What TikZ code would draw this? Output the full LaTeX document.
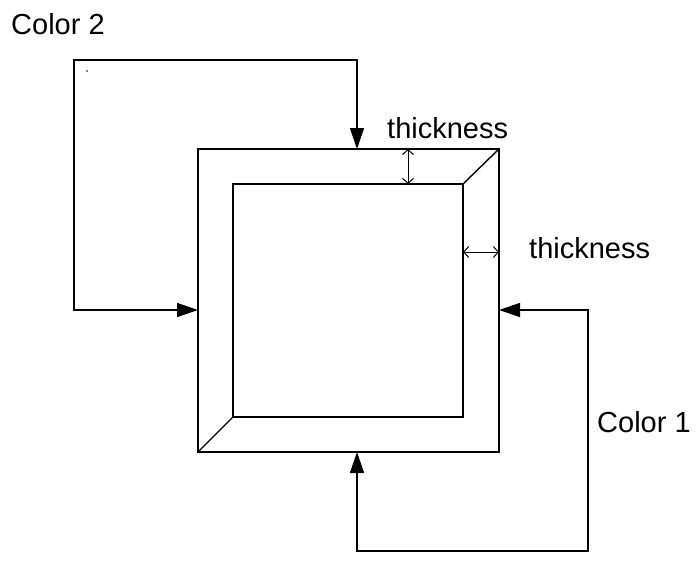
\documentclass[tikz,border=0pt]{standalone}
\usepackage{fontspec}
\setmainfont{Liberation Sans}
\usetikzlibrary{arrows.meta}
\begin{document}
\begin{tikzpicture}[x=1pt,y=-1pt,
  lbl/.style={anchor=base west,inner sep=0pt,font=\fontsize{29}{31}\selectfont},
  wire/.style={line width=1.4pt},
  frame/.style={line width=1.6pt},
  feed/.style={wire,{Triangle[length=21pt,width=14pt]}-{Triangle[length=21pt,width=14pt]}},
  dim/.style={line width=1pt,{Straight Barb[length=5pt,width=11pt]}-{Straight Barb[length=5pt,width=11pt]}}]
\useasboundingbox (0,0) rectangle (697,571);
% outer and inner squares
\coordinate (o1) at (198,149); \coordinate (o2) at (499,149);
\coordinate (o3) at (499,452); \coordinate (o4) at (198,452);
\coordinate (i1) at (233,184); \coordinate (i2) at (463,184);
\coordinate (i3) at (463,417); \coordinate (i4) at (233,417);
\draw[frame] (o1) -- (o2) -- (o3) -- (o4) -- cycle;
\draw[frame] (i1) -- (i2) -- (i3) -- (i4) -- cycle;
\draw[wire] (i2) -- (o2);
\draw[wire] (i4) -- (o4);
% Color 2 feed
\coordinate (topin) at (357,149);
\coordinate (leftin) at (198,310);
\draw[feed] (topin) -- (357,60) -- (74,60) -- (74,310) -- (leftin);
\fill (87,71) circle (0.8pt);
% Color 1 feed
\coordinate (rightin) at (499,310);
\coordinate (botin) at (357,452);
\draw[feed] (rightin) -- (588,310) -- (588,551) -- (357,551) -- (botin);
% thickness dimensions
\coordinate (t1) at (408,149); \coordinate (t2) at (408,184);
\draw[dim] (t1) -- (t2);
\coordinate (r1) at (463,252); \coordinate (r2) at (499,252);
\draw[dim] (r1) -- (r2);
% labels
\node[lbl] (c2) at (11,34) {Color 2};
\node[lbl] (th1) at (387,138) {thickness};
\node[lbl] (th2) at (529,258) {thickness};
\node[lbl] (c1) at (597,432) {Color 1};
\end{tikzpicture}
\end{document}
